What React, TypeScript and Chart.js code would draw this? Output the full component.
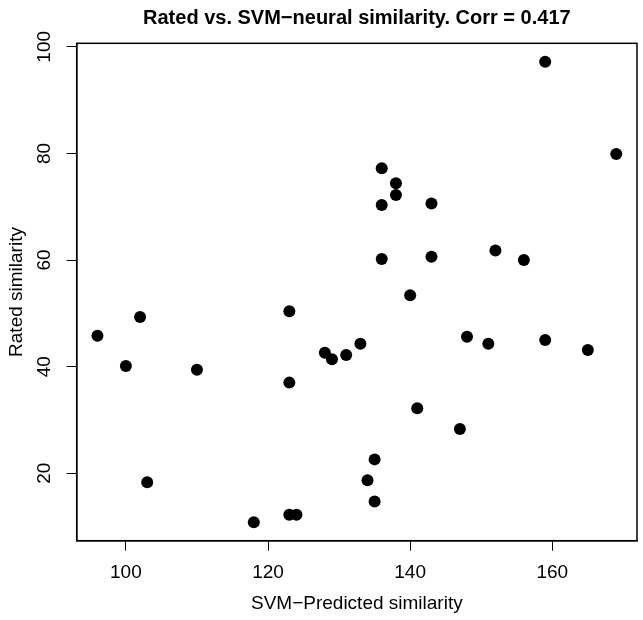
import React, { useEffect, useRef } from "react";
import { Chart, registerables } from "chart.js";

Chart.register(...registerables);

const titleText = "Rated vs. SVM\u2212neural similarity. Corr = 0.417";
const xLabel = "SVM\u2212Predicted similarity";
const yLabel = "Rated similarity";

const predicted = [96, 102, 100, 110, 103, 118, 136, 138, 138, 136, 143, 136, 143, 140, 123, 148, 151, 128, 129, 131, 133, 123, 141, 147, 135, 134, 135, 123, 124, 159, 169, 152, 156, 159, 165];
const rated = [45.8, 49.3, 40.1, 39.4, 18.3, 10.8, 77.2, 74.4, 72.2, 70.3, 70.6, 60.2, 60.6, 53.4, 50.4, 45.6, 44.3, 42.6, 41.4, 42.2, 44.3, 37.0, 32.2, 28.3, 22.6, 18.7, 14.7, 12.2, 12.2, 97.2, 79.9, 61.8, 60.0, 45.0, 43.1];

const xTicks = [100, 120, 140, 160];
const yTicks = [20, 40, 60, 80, 100];

const FONT = '"Liberation Sans", Arial, Helvetica, sans-serif';

function rRange(v: number[]) {
  const lo = Math.min(...v);
  const hi = Math.max(...v);
  const pad = (hi - lo) * 0.04;
  return [lo - pad, hi + pad];
}

const frame = {
  id: "frame",
  afterDraw(chart: any) {
    const { ctx, chartArea } = chart;
    const ys = chart.scales.y;
    ctx.save();
    ctx.strokeStyle = "#000";
    ctx.lineWidth = 1.5;
    ctx.strokeRect(chartArea.left, chartArea.top, chartArea.right - chartArea.left, chartArea.bottom - chartArea.top);
    ctx.fillStyle = "#000";
    ctx.font = `19px ${FONT}`;
    ctx.textAlign = "center";
    ctx.textBaseline = "middle";
    yTicks.forEach((v) => {
      const py = ys.getPixelForValue(v);
      ctx.save();
      ctx.translate(ys.right - 32, py);
      ctx.rotate(-Math.PI / 2);
      ctx.fillText(String(v), 0, 0);
      ctx.restore();
    });
    ctx.restore();
  },
};

export default function App() {
  const ref = useRef<HTMLCanvasElement | null>(null);
  useEffect(() => {
    document.body.style.margin = "0";
    const [xmin, xmax] = rRange(predicted);
    const [ymin, ymax] = rRange(rated);
    const chart = new Chart(ref.current as HTMLCanvasElement, {
      type: "scatter",
      data: {
        datasets: [
          {
            data: predicted.map((x, i) => ({ x, y: rated[i] })),
            backgroundColor: "#000",
            borderWidth: 0,
            pointRadius: 6,
            pointHoverRadius: 6,
          },
        ],
      },
      options: {
        animation: false,
        responsive: false,
        events: [],
        layout: { padding: { left: 0, right: 6, top: 0, bottom: 0 } },
        plugins: {
          legend: { display: false },
          tooltip: { enabled: false },
          title: {
            display: true,
            text: titleText,
            fullSize: false,
            color: "#000",
            font: { family: FONT, size: 20, weight: "bold" },
            padding: { top: 6, bottom: 13.3 },
          },
        },
        scales: {
          x: {
            type: "linear",
            min: xmin,
            max: xmax,
            afterBuildTicks: (s: any) => {
              s.ticks = xTicks.map((v) => ({ value: v }));
            },
            afterFit: (s: any) => {
              s.height = 79.3;
              s.paddingLeft = 0;
              s.paddingRight = 0;
            },
            grid: { display: true, drawOnChartArea: false, drawTicks: true, tickLength: 10, color: "#000", lineWidth: 1 },
            border: { display: true, color: "#000", width: 1.5 },
            ticks: { color: "#000", font: { family: FONT, size: 19 }, padding: 11, maxRotation: 0 },
            title: { display: true, text: xLabel, color: "#000", font: { family: FONT, size: 19 }, padding: { top: 0, bottom: 4.6 } },
          },
          y: {
            type: "linear",
            min: ymin,
            max: ymax,
            afterBuildTicks: (s: any) => {
              s.ticks = yTicks.map((v) => ({ value: v }));
            },
            afterFit: (s: any) => {
              s.width = 76.7;
              s.paddingTop = 0;
              s.paddingBottom = 0;
            },
            grid: { display: true, drawOnChartArea: false, drawTicks: true, tickLength: 10, color: "#000", lineWidth: 1 },
            border: { display: true, color: "#000", width: 1.5 },
            ticks: { display: false },
            title: { display: true, text: yLabel, color: "#000", font: { family: FONT, size: 19 }, padding: { top: 5.6, bottom: 0 } },
          },
        },
      },
      plugins: [frame],
    });
    return () => chart.destroy();
  }, []);
  return <canvas ref={ref} width={643} height={620} style={{ display: "block" }} />;
}
